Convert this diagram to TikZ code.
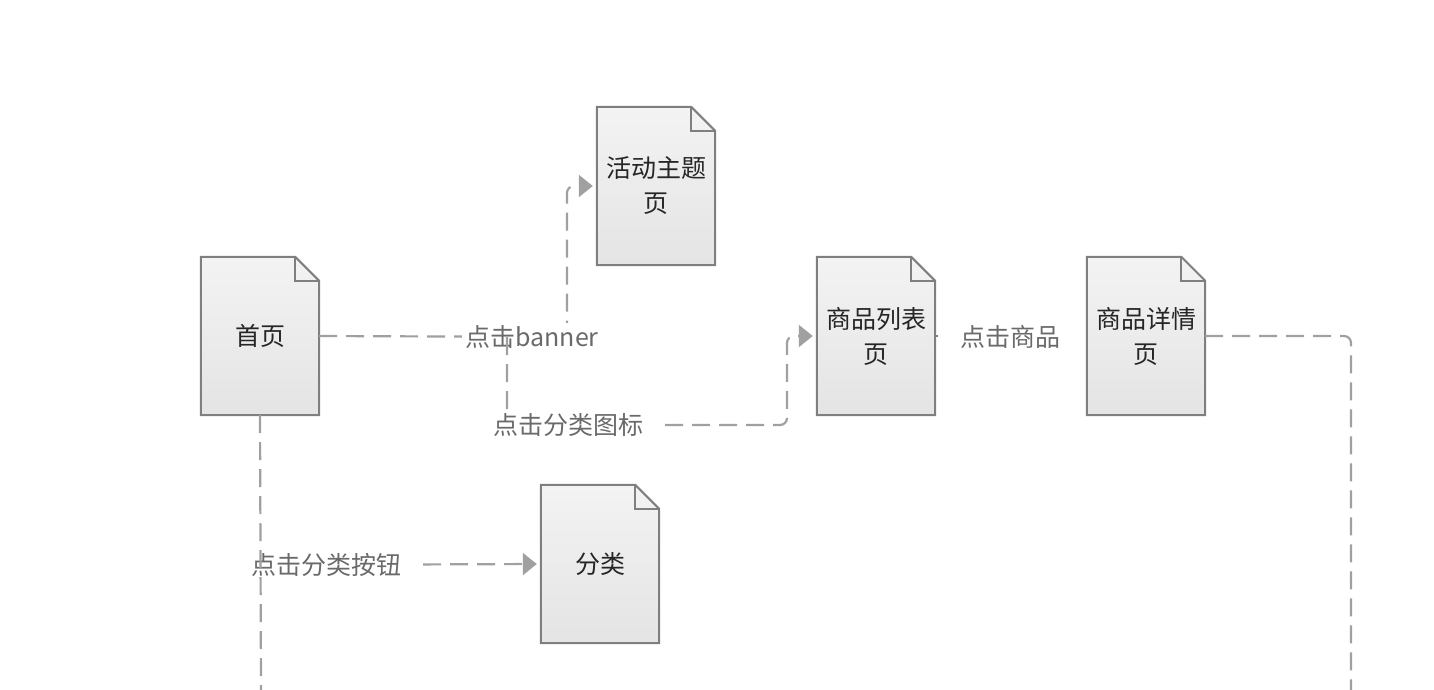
\documentclass[tikz,border=0pt]{standalone}
\usepackage{fontspec}
\newfontfamily\cjk{Noto Sans CJK SC}
\usetikzlibrary{arrows.meta,backgrounds}
\definecolor{boxline}{HTML}{7F7F7F}
\definecolor{conncol}{HTML}{A0A0A0}
\definecolor{boxtext}{HTML}{262626}
\definecolor{labeltext}{HTML}{6A6A6A}
\definecolor{filltop}{HTML}{F3F3F3}
\definecolor{fillbot}{HTML}{E4E4E4}
\newcommand\docshape[1]{%
  \path[draw=boxline, line width=2pt, top color=filltop, bottom color=fillbot, line join=miter]
    (#1.south west) -- (#1.north west) -- ([xshift=-24pt]#1.north east)
    -- ([yshift=-24pt]#1.north east) -- (#1.south east) -- cycle;
  \draw[boxline, line width=2pt] ([xshift=-24pt]#1.north east) -- ++(0,24) -- ([yshift=-24pt]#1.north east);
}
\begin{document}
\begin{tikzpicture}[x=1pt,y=-1pt,
  doc/.style={minimum width=118pt, minimum height=158pt, inner sep=0pt, align=center,
    text=boxtext, font=\cjk\fontsize{25}{35}\selectfont},
  lbl/.style={fill=white, inner sep=3pt, text=labeltext, font=\cjk\fontsize{25}{30}\selectfont},
  conn/.style={draw=conncol, line width=2.2pt, dash pattern=on 18pt off 9pt, rounded corners=7pt},
  tip/.style={-{Triangle[length=14pt,width=22pt]}, shorten >=4pt},
]
\useasboundingbox (0,0) rectangle (1434,690);

% documents
\node[doc] (home)   at (260,336) {首页};
\node[doc] (theme)  at (656,186) {活动主题\\页};
\node[doc] (list)   at (876,336) {商品列表\\页};
\node[doc] (detail) at (1146,336) {商品详情\\页};
\node[doc] (cat)    at (600,564) {分类};
\begin{scope}[on background layer]
  \docshape{home}
  \docshape{theme}
  \docshape{list}
  \docshape{detail}
  \docshape{cat}
\end{scope}

% coordinates
\coordinate (a1) at (567,337);
\coordinate (jb) at (507,337);
\coordinate (b2) at (507,425);
\coordinate (b3) at (787,425);
\coordinate (c1) at (261,565);
\coordinate (bottomL) at (261,690);
\coordinate (bottomR) at (1351,690);

% home -> theme
\draw[conn,tip] (home.east) -- (a1) |- (theme.west);
\node[lbl] (lbanner) at (532,337) {点击banner};

% home -> list
\draw[conn,tip] (jb) -- (b2) -- (b3) |- (list.west);
\node[lbl, inner xsep=18pt] (licon) at (568,425) {点击分类图标};

% list -> detail
\draw[boxline, line width=2pt] (list.east) -- ++(3,0);
\node[lbl] (lgoods) at (1010,337) {点击商品};

% detail -> down
\draw[conn] (detail.east) -| (bottomR);

% home -> cat
\draw[conn,tip] (c1) -- (cat.west);
\node[lbl, inner xsep=22pt] (lbtn) at (326,565) {点击分类按钮};
\draw[conn] (home.south) -- (bottomL);
\end{tikzpicture}
\end{document}
